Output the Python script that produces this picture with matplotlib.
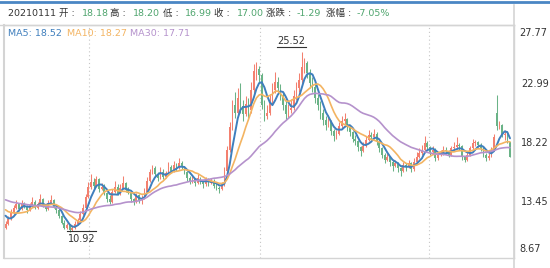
import matplotlib
matplotlib.use("Agg")
import matplotlib.pyplot as plt
from matplotlib.lines import Line2D
import numpy as np
import pandas as pd

plt.rcParams['font.family'] = ['DejaVu Sans', 'Noto Sans CJK SC']

# ---------------- data ----------------
prior_closes = [14.6, 14.3, 14.8, 14.5, 14.1, 14.4, 14.0, 13.7, 14.1, 13.9,
                14.2, 13.8, 13.6, 13.9, 14.3, 13.7, 13.5, 13.8, 13.4, 13.6,
                13.3, 13.5, 13.1, 13.4, 13.2, 12.9, 13.0, 12.6, 12.2, 11.9]

opens = [11.3, 11.6, 12.0, 12.5, 12.9, 13.2, 12.8, 13.3, 13.0, 12.7,
         13.1, 13.4, 12.9, 13.2, 13.6, 13.1, 12.8, 13.3, 13.5, 13.0,
         12.7, 12.2, 11.7, 11.3, 11.5, 11.1, 11.3, 11.6, 11.9, 12.4,
         12.9, 13.8, 14.6, 15.0, 14.7, 15.2, 14.4, 14.6, 14.1, 13.6,
         13.4, 14.2, 14.6, 14.0, 14.5, 14.9, 14.3, 14.1, 13.6, 13.4,
         13.9, 13.5, 13.7, 14.2, 15.1, 15.8, 16.1, 15.6, 15.3, 15.8,
         15.4, 15.7, 16.2, 15.9, 16.4, 16.1, 16.5, 16.2, 15.8, 15.3,
         15.0, 15.2, 14.9, 15.3, 15.0, 14.8, 15.2, 14.9, 15.1, 14.7,
         14.5, 14.4, 14.8, 15.9, 17.6, 19.4, 21.2, 20.6, 21.8, 21.1,
         20.5, 21.3, 20.8, 22.4, 24.0, 24.1, 23.6, 21.2, 20.3, 20.6,
         21.5, 22.4, 23.1, 22.6, 22.0, 21.2, 20.5, 20.8, 21.0, 21.9,
         22.6, 23.2, 24.3, 24.6, 23.8, 23.0, 22.7, 21.8, 21.2, 20.6,
         20.0, 19.6, 19.9, 19.1, 18.7, 18.9, 19.5, 19.9, 20.1, 19.4,
         19.0, 18.5, 18.3, 17.8, 17.5, 17.9, 18.4, 18.8, 18.6, 18.9,
         18.2, 17.7, 17.2, 16.8, 17.0, 16.6, 16.3, 16.5, 16.1, 15.9,
         16.4, 16.2, 16.5, 16.0, 16.6, 17.0, 17.3, 17.6, 18.1, 17.8,
         17.4, 17.6, 16.9, 17.2, 17.3, 17.6, 17.5, 17.2, 17.7, 17.8,
         18.0, 17.9, 17.0, 16.8, 17.2, 17.7, 18.1, 18.2, 18.0, 17.7,
         17.2, 16.9, 17.1, 17.6, 20.6, 19.5, 19.6, 18.8, 18.9, 18.18]

highs = [11.8, 12.2, 12.8, 13.1, 13.5, 13.3, 13.5, 13.4, 13.1, 13.3,
         13.8, 13.5, 13.4, 14.0, 13.7, 13.2, 13.5, 13.9, 13.6, 13.1,
         12.8, 12.3, 11.9, 11.7, 11.6, 11.5, 11.8, 12.1, 12.6, 13.2,
         14.0, 15.0, 15.6, 15.3, 15.5, 15.3, 14.9, 14.8, 14.2, 13.9,
         14.4, 15.1, 14.8, 14.8, 15.5, 15.0, 14.6, 14.2, 13.7, 14.1,
         14.0, 13.9, 14.5, 15.4, 16.0, 16.4, 16.3, 15.8, 16.2, 16.0,
         15.9, 16.6, 16.4, 16.7, 16.5, 16.9, 16.7, 16.3, 15.9, 15.5,
         15.5, 15.3, 15.6, 15.4, 15.1, 15.4, 15.3, 15.3, 15.2, 14.9,
         14.7, 15.0, 16.2, 17.9, 19.8, 21.6, 22.3, 22.6, 23.0, 21.6,
         21.9, 21.8, 23.1, 24.5, 24.7, 24.4, 23.8, 21.6, 21.2, 22.1,
         23.0, 23.9, 23.5, 22.9, 22.3, 21.5, 21.3, 21.7, 22.4, 23.1,
         23.8, 25.52, 25.0, 24.8, 24.1, 23.5, 22.9, 22.1, 21.5, 20.9,
         20.3, 20.4, 20.0, 19.3, 19.2, 19.8, 20.3, 20.6, 20.2, 19.6,
         19.1, 18.8, 18.4, 17.9, 18.2, 18.7, 19.2, 19.0, 19.3, 19.0,
         18.3, 17.8, 17.3, 17.3, 17.1, 16.8, 16.8, 16.6, 16.2, 16.6,
         16.5, 16.8, 16.6, 16.9, 17.4, 17.7, 18.0, 18.7, 18.3, 17.9,
         17.9, 17.7, 17.4, 17.6, 17.9, 17.8, 17.6, 17.9, 18.2, 18.6,
         18.1, 18.0, 17.1, 17.4, 17.9, 18.5, 18.4, 18.3, 18.1, 17.8,
         17.3, 17.3, 17.8, 18.9, 22.0, 19.9, 19.7, 19.2, 19.1, 18.20]

lows = [11.2, 11.5, 11.9, 12.4, 12.8, 12.6, 12.7, 12.9, 12.5, 12.6,
        13.0, 12.8, 12.8, 13.1, 13.0, 12.6, 12.7, 13.2, 12.9, 12.5,
        12.1, 11.6, 11.2, 11.2, 10.92, 11.0, 11.2, 11.5, 11.8, 12.3,
        12.8, 13.7, 14.4, 14.5, 14.6, 14.2, 14.3, 13.9, 13.4, 13.2,
        13.3, 14.1, 13.9, 13.9, 14.4, 14.2, 14.0, 13.4, 13.1, 13.3,
        13.3, 13.2, 13.6, 14.1, 15.0, 15.6, 15.4, 15.1, 15.2, 15.2,
        15.3, 15.6, 15.7, 15.8, 15.9, 16.0, 16.0, 15.6, 15.1, 14.8,
        14.9, 14.7, 14.8, 14.8, 14.5, 14.7, 14.7, 14.8, 14.5, 14.3,
        14.1, 14.3, 14.7, 15.8, 17.4, 19.2, 20.2, 20.4, 20.6, 19.9,
        20.3, 20.0, 20.6, 22.2, 23.2, 23.1, 20.9, 19.9, 20.1, 20.4,
        21.3, 22.2, 22.1, 21.6, 20.8, 20.0, 20.2, 20.6, 20.8, 21.6,
        22.3, 23.0, 23.8, 23.4, 22.6, 22.3, 21.4, 20.8, 20.1, 19.6,
        19.2, 19.4, 18.8, 18.3, 18.5, 18.8, 19.3, 19.7, 19.1, 18.7,
        18.2, 18.0, 17.5, 17.1, 17.4, 17.8, 18.3, 18.3, 18.5, 18.0,
        17.4, 16.9, 16.5, 16.7, 16.3, 15.9, 16.2, 15.8, 15.5, 15.8,
        15.9, 16.1, 15.8, 15.9, 16.5, 16.9, 17.2, 17.5, 17.6, 17.2,
        17.3, 16.7, 16.8, 17.1, 17.2, 17.3, 17.0, 17.1, 17.6, 17.7,
        17.6, 16.8, 16.6, 16.7, 17.1, 17.6, 17.9, 17.8, 17.5, 17.0,
        16.7, 16.8, 17.0, 17.5, 19.2, 19.3, 18.6, 18.4, 18.1, 16.99]

closes = [11.6, 12.0, 12.5, 12.9, 13.2, 12.8, 13.3, 13.0, 12.7, 13.1,
          13.4, 12.9, 13.2, 13.6, 13.1, 12.8, 13.3, 13.5, 13.0, 12.7,
          12.2, 11.7, 11.3, 11.5, 11.1, 11.3, 11.6, 11.9, 12.4, 12.9,
          13.8, 14.6, 15.0, 14.7, 15.2, 14.4, 14.6, 14.1, 13.6, 13.4,
          14.2, 14.6, 14.0, 14.5, 14.9, 14.3, 14.1, 13.6, 13.4, 13.9,
          13.5, 13.7, 14.2, 15.1, 15.8, 16.1, 15.6, 15.3, 15.8, 15.4,
          15.7, 16.2, 15.9, 16.4, 16.1, 16.5, 16.2, 15.8, 15.3, 15.0,
          15.2, 14.9, 15.3, 15.0, 14.8, 15.2, 14.9, 15.1, 14.7, 14.5,
          14.4, 14.8, 15.9, 17.6, 19.4, 21.2, 20.6, 21.8, 21.1, 20.5,
          21.3, 20.8, 22.4, 24.0, 24.1, 23.6, 21.2, 20.3, 20.6, 21.5,
          22.4, 23.1, 22.6, 22.0, 21.2, 20.5, 20.8, 21.0, 21.9, 22.6,
          23.2, 24.3, 24.6, 23.8, 23.0, 22.7, 21.8, 21.2, 20.6, 20.0,
          19.6, 19.9, 19.1, 18.7, 18.9, 19.5, 19.9, 20.1, 19.4, 19.0,
          18.5, 18.3, 17.8, 17.5, 17.9, 18.4, 18.8, 18.6, 18.9, 18.2,
          17.7, 17.2, 16.8, 17.0, 16.6, 16.3, 16.5, 16.1, 15.9, 16.4,
          16.2, 16.5, 16.0, 16.6, 17.0, 17.3, 17.6, 18.1, 17.8, 17.4,
          17.6, 16.9, 17.2, 17.3, 17.6, 17.5, 17.2, 17.7, 17.8, 18.0,
          17.9, 17.0, 16.8, 17.2, 17.7, 18.1, 18.2, 18.0, 17.7, 17.2,
          16.9, 17.1, 17.6, 18.6, 19.5, 19.6, 18.8, 18.9, 18.29, 17.00]

y_ticks = [13.45, 18.22, 22.99]
y_edge_labels = ["27.77", "8.67"]
header_items = [("20210111 开 :", "18.18"), ("高 :", "18.20"), ("低 :", "16.99"),
                ("收 :", "17.00"), ("涨跌 :", "-1.29"), ("涨幅 :", "-7.05%")]
ma_periods = [5, 10, 30]
ma_labels = ["MA5: 18.52", "MA10: 18.27", "MA30: 17.71"]
max_label = "25.52"
min_label = "10.92"
grid_idx = [31.3, 95.4, 158.7]

# ---------------- styles ----------------
RED = '#f3806f'
GREEN = '#6ab387'
MA_COLORS = ['#3f7fbd', '#f3b462', '#b592cc']
VAL_GREEN = '#4fa56e'
DARK = '#333333'
BORDER = '#d4d4d4'

W, H = 550, 268
fig = plt.figure(figsize=(5.5, 2.68), dpi=100)
ax = fig.add_axes([4 / W, (H - 258) / H, 510 / W, (258 - 25) / H])

n = len(closes)
x = np.arange(n)
o = np.array(opens); h = np.array(highs); l = np.array(lows); c = np.array(closes)
up = c >= o
cols = np.where(up, RED, GREEN)

ax.vlines(x, l, h, colors=cols, lw=0.75, zorder=2)
body_bottom = np.minimum(o, c)
body_h = np.maximum(np.abs(c - o), 0.05)
ax.bar(x, body_h, bottom=body_bottom, width=0.6, color=cols, edgecolor='none', zorder=2)

allc = pd.Series(prior_closes + closes)
for p, col, lw in zip(ma_periods, MA_COLORS, [1.4, 1.2, 1.2]):
    ma = allc.rolling(p).mean().to_numpy()[len(prior_closes):]
    ax.plot(x, ma, color=col, lw=lw, zorder=3, solid_capstyle='round')

step = 504.5 / (n - 1)
xmin = -1.5 / step
ax.set_xlim(xmin, xmin + 510 / step)
ax.set_ylim(8.84, 27.68)

for gi in grid_idx:
    ax.axvline(gi, color='#c6c6c6', lw=0.8, ls=(0, (1, 2.5)), zorder=1)

ax.set_xticks([])
ax.yaxis.tick_right()
ax.set_yticks(y_ticks)
ax.set_yticklabels([f"{v:.2f}" for v in y_ticks], fontsize=7, color=DARK)
ax.tick_params(axis='y', length=0, pad=5)
for s in ax.spines.values():
    s.set_color(BORDER)
    s.set_linewidth(1.0)
ax.spines['left'].set_linewidth(1.5)

# extreme y labels
fig.text(519 / W, 1 - 33 / H, y_edge_labels[0], fontsize=7, color=DARK, va='center', ha='left')
fig.text(519 / W, 1 - 249 / H, y_edge_labels[1], fontsize=7, color=DARK, va='center', ha='left')

# max / min annotations
fig.text(305 / W, 1 - 40.5 / H, max_label, fontsize=7, color=DARK, va='center', ha='right')
fig.add_artist(Line2D([277 / W, 306 / W], [1 - 46.5 / H, 1 - 46.5 / H], color=DARK, lw=0.8))
fig.text(68 / W, 1 - 238.5 / H, min_label, fontsize=7, color=DARK, va='center', ha='left')
fig.add_artist(Line2D([67 / W, 96 / W], [1 - 230.5 / H, 1 - 230.5 / H], color=DARK, lw=0.8))

# MA legend
for lab, col, xp in zip(ma_labels, MA_COLORS, [8, 67, 130]):
    fig.text(xp / W, 1 - 33.5 / H, lab, fontsize=6.8, color=col, va='center', ha='left')

# header
lab_x = [8, 110, 163, 214, 266, 326]
val_x = [82, 133, 185, 237, 297, 357]
for (lab, val), lx, vx in zip(header_items, lab_x, val_x):
    fig.text(lx / W, 1 - 13.5 / H, lab, fontsize=6.8, color=DARK, va='center', ha='left')
    fig.text(vx / W, 1 - 13.5 / H, val, fontsize=6.8, color=VAL_GREEN, va='center', ha='left')

# frame lines
fig.add_artist(Line2D([0, 1], [1 - 1.5 / H, 1 - 1.5 / H], color='#4a86c4', lw=2))
fig.add_artist(Line2D([514 / W, 514 / W], [0, 1 - 5 / H], color=BORDER, lw=1.2))
fig.add_artist(Line2D([0, 514 / W], [1 - 25 / H, 1 - 25 / H], color=BORDER, lw=1.0))

fig.savefig("out.png", dpi=100, facecolor='white')
